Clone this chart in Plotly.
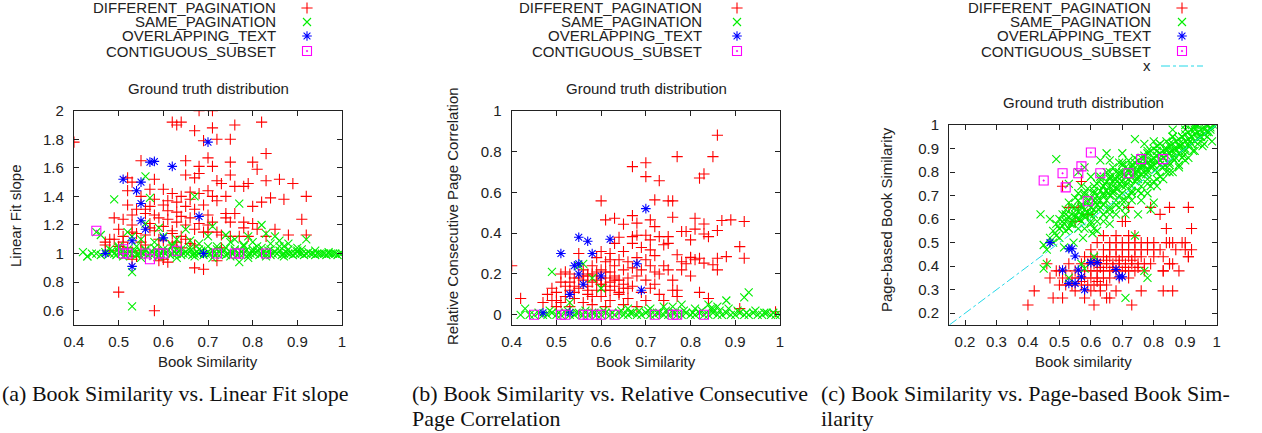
import plotly.graph_objects as go

# ---------------- Panel (a): Book Similarity vs Linear Fit slope ----------------
a_diff_x = [0.40,0.68,0.71,0.62,0.63,0.64,0.67,0.69,0.71,0.72,0.75,0.76,0.82,0.83,0.70,0.65,0.55,0.68,0.71,0.75,
            0.80,0.81,0.58,0.52,0.67,0.68,0.72,0.73,0.75,0.76,0.78,0.79,0.83,0.86,0.89,0.92,0.84,0.87,0.82,0.80,
            0.91,0.92,0.88,0.85,0.81,0.78,0.79,0.75,0.74,
            0.49,0.50,0.51,0.51,0.52,0.52,0.53,0.53,0.54,0.54,0.55,0.55,0.56,0.57,0.57,0.57,0.58,0.58,0.58,0.59,
            0.59,0.60,0.60,0.60,0.61,0.61,0.61,0.62,0.62,0.63,0.63,0.63,0.64,0.64,0.64,0.65,0.65,0.65,0.66,0.66,
            0.66,0.67,0.67,0.68,0.68,0.69,0.69,0.70,0.70,0.70,0.71,0.71,0.72,0.72,0.73,0.74,0.74,0.75,0.76,0.77,
            0.78,0.80,0.83,0.47,0.48,0.50,0.52,0.53,0.55,0.56,0.59,0.60,0.61,0.62,0.63,0.64,0.66,0.67,0.69,0.72,
            0.73,0.54,0.53,0.59,0.50,0.58,0.47,0.48,0.49,0.51,0.53,0.56,0.57,0.60,0.62,0.65,0.67,0.70,0.53,0.56]
a_diff_y = [1.78,2.00,2.00,1.92,1.90,1.92,1.86,1.79,1.88,1.80,1.80,1.90,1.92,1.70,1.67,1.65,1.65,1.61,1.61,1.64,
            1.64,1.59,1.52,1.53,1.53,1.56,1.51,1.49,1.55,1.47,1.47,1.49,1.51,1.52,1.49,1.40,1.39,1.38,1.36,1.33,
            1.24,1.13,1.13,1.17,1.17,1.18,1.12,1.22,1.28,
            1.25,1.17,1.12,1.24,1.34,1.44,1.27,1.20,1.31,1.14,1.40,1.08,1.28,1.45,1.33,1.21,1.38,1.16,1.27,1.25,
            1.10,1.45,1.34,1.19,1.30,1.37,1.24,1.42,1.14,1.36,1.29,1.22,1.40,1.26,1.12,1.33,1.20,1.55,1.38,1.25,
            1.43,1.31,1.17,1.42,1.21,1.34,1.15,1.44,1.27,1.20,1.22,1.40,1.37,1.15,1.13,1.40,1.25,1.12,1.28,1.12,
            1.22,1.21,1.12,1.06,1.10,1.05,1.04,1.01,1.02,1.06,1.03,0.96,0.94,1.06,1.08,1.04,1.07,0.90,0.89,0.95,
            1.04,0.98,0.96,0.95,0.73,0.60,1.08,1.02,1.10,1.08,1.50,1.13,1.18,1.09,1.16,1.10,1.06,1.15,1.15,1.31]

a_same_x = [0.42,0.43,0.44,0.45,0.46,0.47,0.48,0.485,0.49,0.495,0.50,0.505,0.51,0.515,0.52,0.525,0.53,0.535,0.54,0.545,
            0.55,0.555,0.56,0.565,0.57,0.575,0.58,0.585,0.59,0.595,0.60,0.605,0.61,0.615,0.62,0.625,0.63,0.635,0.64,0.645,
            0.65,0.655,0.66,0.665,0.67,0.675,0.68,0.685,0.69,0.695,0.70,0.705,0.71,0.715,0.72,0.725,0.73,0.735,0.74,0.745,
            0.75,0.755,0.76,0.765,0.77,0.775,0.78,0.785,0.79,0.795,0.80,0.805,0.81,0.815,0.82,0.825,0.83,0.835,0.84,0.845,
            0.85,0.855,0.86,0.865,0.87,0.875,0.88,0.885,0.89,0.895,0.90,0.905,0.91,0.915,0.92,0.925,0.93,0.935,0.94,0.945,
            0.95,0.955,0.96,0.965,0.97,0.975,0.98,0.985,0.99,0.995,1.00,
            0.48,0.50,0.52,0.54,0.56,0.58,0.60,0.62,0.64,0.66,0.68,0.70,0.72,0.74,0.76,0.78,0.80,0.82,0.84,0.86,
            0.88,0.90,0.51,0.55,0.59,0.63,0.67,0.71,0.75,0.79,0.83,0.87,
            0.46,0.50,0.52,0.53,0.55,0.56,0.58,0.59,0.60,0.62,0.63,0.65,0.66,0.68,0.70,0.71,0.72,0.74,0.75,0.76,
            0.78,0.79,0.80,0.81,0.83,0.84,0.85,0.86,0.87,0.88,0.90,0.91,0.94,0.97,
            0.56,0.57,0.49,0.67,0.77,0.53,0.53,0.77,0.82,0.45,0.92,0.43]
a_same_y = [1.01,0.98,1.00,1.00,0.99,1.01,1.00,1.02,1.00,0.99,1.01,1.00,1.02,0.99,1.00,1.01,1.00,1.02,0.99,1.00,
            1.01,1.00,1.02,0.99,1.00,1.01,1.00,1.02,0.99,1.00,1.01,1.00,1.02,0.99,1.00,1.01,1.00,1.02,0.99,1.00,
            1.01,1.00,1.02,0.99,1.00,1.01,1.00,1.02,0.99,1.00,1.01,1.00,1.02,0.99,1.00,1.01,1.00,1.02,0.99,1.00,
            1.01,1.00,1.02,0.99,1.00,1.01,1.00,1.02,0.99,1.00,1.01,1.00,1.02,0.99,1.00,1.01,1.00,1.02,0.99,1.00,
            1.01,1.00,1.02,0.99,1.00,1.01,1.00,1.00,0.99,1.00,1.01,1.00,1.00,0.99,1.00,1.01,1.00,1.00,0.99,1.00,
            1.00,1.00,1.00,0.99,1.00,1.00,1.00,1.00,0.99,1.00,1.00,
            1.03,1.04,1.03,1.05,1.03,1.04,1.03,1.05,1.03,1.04,1.03,1.05,1.03,1.04,1.03,1.05,1.03,1.04,1.03,1.05,
            1.03,1.02,0.98,0.97,0.98,0.97,0.98,0.97,0.98,0.97,0.98,0.98,
            1.13,1.05,1.15,1.12,1.10,1.21,1.08,1.18,1.12,1.06,1.10,1.17,1.09,1.07,1.12,1.19,1.05,1.13,1.08,1.10,
            1.06,1.12,1.08,1.05,1.14,1.07,1.12,1.09,1.05,1.07,1.04,1.03,1.02,1.01,
            1.54,1.39,1.38,1.40,1.35,0.63,0.87,0.94,1.20,1.15,1.10,0.98]

a_over_x = [0.47,0.51,0.53,0.53,0.54,0.55,0.55,0.55,0.56,0.57,0.58,0.60,0.62,0.68,0.69,0.70]
a_over_y = [1.00,1.52,1.09,0.91,1.44,1.50,1.35,1.23,1.17,1.64,1.645,1.11,1.61,1.26,1.00,1.78]

a_cont_x = [0.45,0.51,0.51,0.52,0.56,0.57,0.59,0.60,0.63,0.72,0.76,0.77,0.83]
a_cont_y = [1.16,1.03,1.00,1.00,1.00,0.96,1.00,1.00,1.02,1.00,1.00,1.00,1.00]

# ---------------- Panel (b): Book Similarity vs Relative Consecutive Page Correlation ----------------
b_diff_x = [0.40,0.42,0.86,0.77,0.70,0.67,0.70,0.73,0.82,0.83,0.85,0.60,0.72,0.75,0.76,0.61,0.63,0.65,0.67,0.68,
            0.71,0.72,0.76,0.81,0.83,0.86,0.87,0.89,0.92,0.79,0.78,0.81,0.80,0.84,0.83,0.75,0.73,0.67,0.68,0.70,
            0.71,0.71,0.74,0.75,0.77,0.80,0.81,0.82,0.83,0.85,0.86,0.88,0.91,0.92,0.86,0.78,0.80,0.76,0.77,0.82,
            0.84,0.91,0.99,
            0.47,0.48,0.49,0.49,0.50,0.50,0.51,0.51,0.52,0.52,0.53,0.53,0.53,0.54,0.54,0.55,0.55,0.56,0.56,0.56,
            0.57,0.57,0.57,0.58,0.58,0.58,0.59,0.59,0.59,0.60,0.60,0.60,0.60,0.61,0.61,0.61,0.61,0.62,0.62,0.62,
            0.62,0.63,0.63,0.63,0.63,0.64,0.64,0.64,0.64,0.65,0.65,0.65,0.65,0.66,0.66,0.66,0.67,0.67,0.67,0.68,
            0.68,0.68,0.69,0.69,0.69,0.70,0.70,0.70,0.71,0.71,0.72,0.72,0.72,0.73,0.73,0.74,0.74,0.75,0.76,0.77,
            0.78,0.79,0.80,0.58,0.59,0.61,0.63,0.65,0.66,0.54,0.57,0.60,0.62,0.64,
            0.51,0.53,0.55,0.57,0.59,0.61,0.63,0.50,0.52,0.54,0.56,0.58,0.60,0.62]
b_diff_y = [0.24,0.08,0.88,0.775,0.745,0.726,0.677,0.657,0.67,0.69,0.775,0.558,0.563,0.558,0.558,0.465,0.473,0.444,0.486,0.449,
            0.465,0.432,0.478,0.473,0.445,0.413,0.462,0.465,0.457,0.408,0.408,0.42,0.367,0.383,0.396,0.383,0.383,0.383,0.39,0.39,
            0.367,0.318,0.343,0.35,0.294,0.282,0.27,0.277,0.253,0.245,0.277,0.285,0.334,0.277,0.22,0.22,0.19,0.17,0.12,0.11,
            0.08,0.03,0.015,
            0.06,0.10,0.07,0.13,0.04,0.11,0.06,0.16,0.21,0.09,0.12,0.04,0.20,0.18,0.08,0.30,0.13,0.22,0.06,0.17,
            0.10,0.20,0.14,0.05,0.16,0.24,0.12,0.19,0.28,0.09,0.15,0.22,0.31,0.04,0.18,0.26,0.12,0.16,0.21,0.30,
            0.07,0.14,0.19,0.24,0.35,0.10,0.17,0.27,0.38,0.05,0.13,0.22,0.31,0.18,0.26,0.08,0.14,0.23,0.35,0.04,
            0.19,0.28,0.11,0.22,0.33,0.07,0.17,0.27,0.13,0.24,0.15,0.21,0.29,0.10,0.20,0.24,0.07,0.22,0.12,0.09,
            0.26,0.25,0.28,0.20,0.17,0.21,0.18,0.15,0.13,0.14,0.19,0.15,0.27,0.11,
            0.20,0.16,0.18,0.12,0.21,0.14,0.17,0.07,0.14,0.11,0.19,0.09,0.18,0.12]

b_same_x = [0.42,0.44,0.45,0.46,0.47,0.48,0.49,0.50,0.51,0.52,0.53,0.54,0.55,0.56,0.57,0.58,0.59,0.60,0.61,0.62,
            0.63,0.64,0.65,0.66,0.67,0.68,0.69,0.70,0.71,0.72,0.73,0.74,0.75,0.76,0.77,0.78,0.79,0.80,0.81,0.82,
            0.83,0.84,0.85,0.86,0.87,0.88,0.89,0.90,0.91,0.92,0.93,0.94,0.95,0.96,0.97,0.98,0.99,1.00,
            0.485,0.505,0.525,0.545,0.565,0.585,0.605,0.625,0.645,0.665,0.685,0.705,0.725,0.745,0.765,0.785,0.805,0.825,0.845,0.865,
            0.885,0.905,0.925,0.945,0.965,0.985,
            0.43,0.49,0.55,0.56,0.58,0.60,0.66,0.76,0.78,0.84,0.86,0.88,0.92,0.93,0.85,0.53,0.71,0.74,0.81]
b_same_y = [0.00,0.00,0.00,0.01,0.00,0.00,0.01,0.00,0.00,0.01,0.00,0.00,0.01,0.00,0.00,0.01,0.00,0.00,0.01,0.00,
            0.00,0.01,0.00,0.00,0.01,0.00,0.00,0.01,0.00,0.00,0.01,0.00,0.00,0.01,0.00,0.00,0.01,0.00,0.00,0.01,
            0.00,0.00,0.01,0.00,0.00,0.01,0.00,0.00,0.01,0.00,0.00,0.01,0.00,0.00,0.01,0.00,0.00,0.00,
            0.02,0.01,0.02,0.01,0.02,0.01,0.02,0.01,0.02,0.01,0.02,0.02,0.01,0.02,0.01,0.02,0.01,0.02,0.03,0.02,
            0.03,0.02,0.01,0.02,0.01,0.01,
            0.03,0.21,0.24,0.25,0.18,0.13,0.03,0.04,0.05,0.05,0.04,0.07,0.085,0.11,0.03,0.06,0.03,0.04,0.03]

b_over_x = [0.47,0.51,0.53,0.53,0.54,0.55,0.55,0.55,0.56,0.57,0.58,0.60,0.62,0.68,0.69,0.70]
b_over_y = [0.01,0.30,0.10,0.01,0.24,0.38,0.25,0.20,0.15,0.36,0.30,0.19,0.37,0.25,0.12,0.52]

b_cont_x = [0.45,0.51,0.52,0.56,0.57,0.59,0.60,0.63,0.72,0.76,0.77,0.83]
b_cont_y = [0.00,0.00,0.00,0.00,0.00,0.00,0.00,0.00,0.00,0.00,0.00,0.00]

# ---------------- Panel (c): Book similarity vs Page-based Book Similarity ----------------
c_diff_x = [0.40,0.42,0.48,0.51,0.61,0.73,0.65,0.66,0.58,0.76,0.83,0.86,0.79,0.82,0.85,0.91,0.72,0.70,0.71,0.84,
            0.92,0.89,0.91,0.92,0.88,0.85,0.86,0.83,0.90,0.85,0.57,0.56,0.51,0.53,0.59,0.55,0.46,0.49,0.47,
            0.62,0.66,0.68,0.70,0.72,0.74,0.76,0.78,0.80,0.84,0.86,
            0.60,0.64,0.66,0.68,0.70,0.72,0.74,0.76,0.78,0.80,0.82,0.87,0.90,
            0.58,0.60,0.62,0.64,0.66,0.68,0.70,0.72,0.74,0.76,0.80,0.83,0.91,
            0.53,0.57,0.59,0.61,0.63,0.65,0.67,0.69,0.71,0.73,0.75,0.77,0.79,0.85,
            0.50,0.52,0.55,0.58,0.60,0.62,0.64,0.66,0.68,0.70,0.72,0.74,0.77,0.83,
            0.51,0.54,0.56,0.58,0.60,0.62,0.64,0.66,0.69,0.72,
            0.50,0.52,0.54,0.57,0.59,0.61,0.63,0.65,
            0.55,0.60,0.63,0.68,0.64,0.68,0.72,0.74,
            0.61,0.65,0.69,0.73,0.63,0.67,0.71,0.75,0.57,0.62]
c_diff_y = [0.235,0.295,0.265,0.265,0.235,0.235,0.265,0.265,0.265,0.295,0.295,0.295,0.65,0.62,0.65,0.65,0.65,0.59,0.59,0.56,
            0.56,0.50,0.44,0.47,0.38,0.41,0.41,0.38,0.50,0.50,0.76,0.65,0.74,0.65,0.62,0.59,0.41,0.38,0.35,
            0.50,0.50,0.50,0.50,0.50,0.50,0.50,0.50,0.50,0.50,0.50,
            0.47,0.47,0.47,0.47,0.47,0.47,0.47,0.47,0.47,0.47,0.47,0.47,0.47,
            0.44,0.44,0.44,0.44,0.44,0.44,0.44,0.44,0.44,0.44,0.44,0.44,0.44,
            0.41,0.41,0.41,0.41,0.41,0.41,0.41,0.41,0.41,0.41,0.41,0.41,0.41,0.41,
            0.38,0.38,0.38,0.38,0.38,0.38,0.38,0.38,0.38,0.38,0.38,0.38,0.38,0.38,
            0.35,0.35,0.35,0.35,0.35,0.35,0.35,0.35,0.35,0.35,
            0.32,0.32,0.32,0.32,0.32,0.32,0.32,0.32,
            0.295,0.295,0.295,0.295,0.53,0.53,0.53,0.53,
            0.425,0.425,0.425,0.425,0.395,0.395,0.395,0.395,0.335,0.335]

c_same_x = [0.44,0.45,0.46,0.47,0.48,0.48,0.49,0.49,0.50,0.50,0.50,0.51,0.51,0.52,0.52,0.52,0.53,0.53,0.53,0.54,
            0.54,0.55,0.55,0.55,0.56,0.56,0.56,0.57,0.57,0.57,0.58,0.58,0.58,0.59,0.59,0.59,0.60,0.60,0.60,0.61,
            0.61,0.61,0.62,0.62,0.62,0.63,0.63,0.63,0.64,0.64,0.64,0.65,0.65,0.65,0.66,0.66,0.66,0.67,0.67,0.67,
            0.68,0.68,0.68,0.69,0.69,0.69,0.70,0.70,0.70,0.71,0.71,0.71,0.72,0.72,0.72,0.73,0.73,0.73,0.74,0.74,
            0.74,0.75,0.75,0.75,0.76,0.76,0.76,0.77,0.77,0.77,0.78,0.78,0.78,0.79,0.79,0.79,0.80,0.80,0.80,0.81,
            0.81,0.81,0.82,0.82,0.82,0.83,0.83,0.83,0.84,0.84,0.84,0.85,0.85,0.85,0.86,0.86,0.86,0.87,0.87,0.87,
            0.88,0.88,0.88,0.89,0.89,0.89,0.90,0.90,0.90,0.91,0.91,0.91,0.92,0.92,0.92,0.93,0.93,0.93,0.94,0.94,
            0.94,0.95,0.95,0.96,0.96,0.97,0.97,0.98,0.99,1.00,
            0.60,0.64,0.66,0.68,0.70,0.72,0.75,0.78,0.80,0.82,0.85,0.88,0.90,0.79,0.80,0.75,0.66,0.62,0.71,
            0.63,0.65,0.70,0.74,0.77,0.80,0.86,0.90,0.93,0.58,0.53,0.56,0.60,0.69,0.66,
            0.49,0.46,0.71,0.78,0.77,0.57,0.58,0.53,0.74,0.61,0.45,0.47,
            0.645,0.675,0.705,0.735,0.765,0.795,0.825,0.855,0.885,0.915,0.945,0.975,
            0.655,0.685,0.715,0.745,0.775,0.805,0.835,0.865,0.895,0.925,0.955,0.985,
            0.535,0.565,0.595,0.625,0.515,0.545,0.575,0.605,
            0.50,0.53,0.56,0.58,0.61,
            0.51,0.54,0.57,0.60,0.62,0.64,
            0.52,0.55,0.58,0.61,0.64,0.66,0.68,
            0.54,0.57,0.60,0.63,0.66,0.69,0.71,
            0.56,0.59,0.62,0.65,0.68,0.71,0.73,0.76,
            0.58,0.61,0.64,0.67,0.70,0.73,0.76,0.78,
            0.61,0.64,0.67,0.70,0.73,0.76,0.79,0.81,
            0.63,0.66,0.69,0.72,0.75,0.78,0.81,0.83,
            0.66,0.69,0.72,0.75,0.78,0.81,0.84,0.86,
            0.70,0.73,0.76,0.79,0.82,0.85,0.88,
            0.74,0.77,0.80,0.83,0.86,0.89,0.91,
            0.78,0.81,0.84,0.87,0.90,0.93,
            0.82,0.85,0.88,0.91,0.94,0.96,
            0.86,0.89,0.92,0.95,0.97,
            0.90,0.93,0.96,0.98]
c_same_y = [0.62,0.49,0.47,0.52,0.55,0.50,0.58,0.53,0.56,0.60,0.52,0.57,0.62,0.55,0.59,0.64,0.61,0.67,0.56,0.62,
            0.58,0.61,0.65,0.69,0.60,0.63,0.71,0.62,0.66,0.74,0.64,0.61,0.70,0.63,0.67,0.73,0.65,0.69,0.62,0.68,
            0.72,0.64,0.66,0.70,0.75,0.68,0.72,0.78,0.70,0.74,0.66,0.72,0.76,0.80,0.70,0.74,0.78,0.72,0.76,0.82,
            0.73,0.77,0.80,0.75,0.79,0.70,0.76,0.80,0.84,0.74,0.78,0.82,0.77,0.81,0.85,0.78,0.82,0.72,0.80,0.84,
            0.76,0.81,0.85,0.78,0.82,0.86,0.79,0.83,0.87,0.80,0.84,0.88,0.81,0.85,0.82,0.89,0.86,0.83,0.90,0.87,
            0.84,0.91,0.88,0.85,0.92,0.89,0.86,0.82,0.90,0.87,0.93,0.91,0.88,0.84,0.92,0.89,0.95,0.93,0.90,0.86,
            0.94,0.91,0.88,0.95,0.92,0.89,0.96,0.93,0.90,0.97,0.94,0.91,0.98,0.95,0.92,0.99,0.96,0.93,1.00,0.97,
            0.94,0.98,0.95,0.99,0.96,1.00,0.97,0.99,1.00,1.00,
            0.58,0.62,0.64,0.66,0.68,0.70,0.72,0.75,0.76,0.78,0.80,0.82,0.85,0.64,0.67,0.62,0.58,0.55,0.62,
            0.85,0.88,0.88,0.94,0.92,0.93,0.98,1.00,1.00,0.82,0.75,0.80,0.78,0.84,0.85,
            0.855,0.41,0.265,0.35,0.38,0.41,0.39,0.35,0.53,0.44,0.39,0.60,
            0.75,0.77,0.79,0.81,0.83,0.85,0.87,0.89,0.91,0.93,0.95,0.97,
            0.71,0.73,0.75,0.77,0.79,0.81,0.83,0.85,0.87,0.89,0.91,0.93,
            0.58,0.60,0.62,0.64,0.48,0.50,0.52,0.54,
            0.56,0.56,0.56,0.56,0.56,
            0.59,0.59,0.59,0.59,0.59,0.59,
            0.62,0.62,0.62,0.62,0.62,0.62,0.62,
            0.65,0.65,0.65,0.65,0.65,0.65,0.65,
            0.68,0.68,0.68,0.68,0.68,0.68,0.68,0.68,
            0.71,0.71,0.71,0.71,0.71,0.71,0.71,0.71,
            0.74,0.74,0.74,0.74,0.74,0.74,0.74,0.74,
            0.77,0.77,0.77,0.77,0.77,0.77,0.77,0.77,
            0.80,0.80,0.80,0.80,0.80,0.80,0.80,0.80,
            0.83,0.83,0.83,0.83,0.83,0.83,0.83,
            0.86,0.86,0.86,0.86,0.86,0.86,0.86,
            0.89,0.89,0.89,0.89,0.89,0.89,
            0.92,0.92,0.92,0.92,0.92,0.92,
            0.95,0.95,0.95,0.95,0.95,
            0.98,0.98,0.98,0.98]

c_over_x = [0.47,0.53,0.54,0.55,0.51,0.56,0.57,0.53,0.55,0.58,0.60,0.62,0.68,0.69,0.70]
c_over_y = [0.50,0.474,0.474,0.443,0.384,0.384,0.355,0.327,0.327,0.30,0.415,0.415,0.386,0.355,0.355]

c_cont_x = [0.45,0.51,0.52,0.56,0.57,0.60,0.59,0.63,0.72,0.76,0.83]
c_cont_y = [0.764,0.795,0.735,0.795,0.824,0.883,0.676,0.795,0.795,0.855,0.855]

diag_x = [0.15, 1.0]
diag_y = [0.15, 1.0]

series_names = ["DIFFERENT_PAGINATION", "SAME_PAGINATION", "OVERLAPPING_TEXT", "CONTIGUOUS_SUBSET"]
series_colors = ["#ff0000", "#00ee00", "#0000ff", "#ff00ff"]
series_symbols = ["cross-thin", "x-thin", "asterisk", "square-open-dot"]

a_xticks = [0.4, 0.5, 0.6, 0.7, 0.8, 0.9, 1.0]
a_yticks = [0.6, 0.8, 1.0, 1.2, 1.4, 1.6, 1.8, 2.0]
b_yticks = [0, 0.2, 0.4, 0.6, 0.8, 1.0]
c_ticks = [0.2, 0.3, 0.4, 0.5, 0.6, 0.7, 0.8, 0.9, 1.0]

W, H = 1262, 433
FONT = "Liberation Sans, Arial, sans-serif"
SERIF = "Liberation Serif, Times New Roman, serif"
FS = 15

fig = go.Figure()

panels = [
    ("x", "y", [(a_diff_x, a_diff_y), (a_same_x, a_same_y), (a_over_x, a_over_y), (a_cont_x, a_cont_y)]),
    ("x2", "y2", [(b_diff_x, b_diff_y), (b_same_x, b_same_y), (b_over_x, b_over_y), (b_cont_x, b_cont_y)]),
    ("x3", "y3", [(c_diff_x, c_diff_y), (c_same_x, c_same_y), (c_over_x, c_over_y), (c_cont_x, c_cont_y)]),
]

for xa, ya, data in panels:
    for i, (xs, ys) in enumerate(data):
        fig.add_trace(go.Scatter(
            x=xs, y=ys, mode="markers", xaxis=xa, yaxis=ya, name=series_names[i], showlegend=False,
            marker=dict(symbol=series_symbols[i], size=8 if i != 3 else 9, color=series_colors[i],
                        line=dict(color=series_colors[i], width=1.1)),
        ))
    if xa == "x3":
        fig.add_trace(go.Scatter(x=diag_x, y=diag_y, mode="lines", xaxis=xa, yaxis=ya,
                                 line=dict(color="#22d8e8", width=1, dash="dashdot"), showlegend=False,
                                 hoverinfo="skip"))

# legend sample glyphs, drawn on a transparent overlay axis in pixel units
leg_pos = [(307, 277), (737, 703), (1182, 1152)]
leg_rows = [8, 22, 36, 51]
for i in range(4):
    fig.add_trace(go.Scatter(
        x=[p[0] for p in leg_pos], y=[leg_rows[i]] * 3, mode="markers", xaxis="x4", yaxis="y4",
        showlegend=False, hoverinfo="skip", cliponaxis=False,
        marker=dict(symbol=series_symbols[i], size=8 if i != 3 else 9, color=series_colors[i],
                    line=dict(color=series_colors[i], width=1.1))))
fig.add_trace(go.Scatter(x=[1161, 1203], y=[66, 66], mode="lines", xaxis="x4", yaxis="y4",
                         showlegend=False, hoverinfo="skip",
                         line=dict(color="#22d8e8", width=1, dash="dashdot")))

annotations = []
for (sx, tx) in leg_pos:
    for i, nm in enumerate(series_names):
        annotations.append(dict(x=tx / W, y=1 - leg_rows[i] / H, xref="paper", yref="paper", text=nm,
                                showarrow=False, xanchor="right", yanchor="middle", borderpad=0,
                                font=dict(family=FONT, size=FS, color="#222")))
annotations.append(dict(x=1152 / W, y=1 - 66 / H, xref="paper", yref="paper", text="x", showarrow=False,
                        xanchor="right", yanchor="middle", borderpad=0,
                        font=dict(family=FONT, size=FS, color="#222")))

# titles
for cx, cy in [(208, 88), (646, 88), (1083, 103)]:
    annotations.append(dict(x=cx / W, y=1 - cy / H, xref="paper", yref="paper", text="Ground truth distribution",
                            showarrow=False, xanchor="center", yanchor="middle",
                            font=dict(family=FONT, size=FS, color="#222")))
# axis titles
for cx, cy, t in [(208, 361, "Book Similarity"), (646, 361, "Book Similarity"), (1083, 361, "Book similarity")]:
    annotations.append(dict(x=cx / W, y=1 - cy / H, xref="paper", yref="paper", text=t, showarrow=False,
                            xanchor="center", yanchor="middle", font=dict(family=FONT, size=FS, color="#222")))
for cx, cy, t in [(15, 216, "Linear Fit slope"), (452, 216, "Relative Consecutive Page Correlation"),
                  (886, 220, "Page-based Book Similarity")]:
    annotations.append(dict(x=cx / W, y=1 - cy / H, xref="paper", yref="paper", text=t, showarrow=False,
                            textangle=-90, xanchor="center", yanchor="middle",
                            font=dict(family=FONT, size=FS, color="#222")))
# captions
for cx, cy, t in [(1, 393, "(a) Book Similarity vs. Linear Fit slope"),
                  (411, 393, "(b) Book Similarity vs. Relative Consecutive"),
                  (411, 418, "Page Correlation"),
                  (820, 393, "(c) Book Similarity vs. Page-based Book Sim-"),
                  (820, 418, "ilarity")]:
    annotations.append(dict(x=cx / W, y=1 - cy / H, xref="paper", yref="paper", text=t, showarrow=False,
                            xanchor="left", yanchor="middle", borderpad=0,
                            font=dict(family=SERIF, size=22, color="#111")))

def ax(domain, rng, ticks, anchor, standoff):
    return dict(domain=domain, range=rng, tickvals=ticks, ticktext=[("%g" % v) for v in ticks],
                ticks="inside", ticklen=5, tickwidth=1, tickcolor="#222", mirror="allticks",
                showline=True, linecolor="#222", linewidth=1.4, showgrid=False, zeroline=False,
                anchor=anchor, tickfont=dict(family=FONT, size=FS, color="#222"),
                ticklabelstandoff=standoff, automargin=False)

yd_ab = [1 - 325 / H, 1 - 110.7 / H]
yd_c = [1 - 325 / H, 1 - 125 / H]
fig.update_layout(
    width=W, height=H, margin=dict(l=0, r=0, t=0, b=0, autoexpand=False),
    paper_bgcolor="white", plot_bgcolor="rgba(0,0,0,0)",
    showlegend=False, annotations=annotations,
    xaxis=ax([74 / W, 342 / W], [0.4, 1.0], a_xticks, "y", 3),
    yaxis=ax(yd_ab, [0.5, 2.0], a_yticks, "x", 6),
    xaxis2=ax([511.7 / W, 780 / W], [0.4, 1.0], a_xticks, "y2", 3),
    yaxis2=ax(yd_ab, [-0.05, 1.0], b_yticks, "x2", 6),
    xaxis3=ax([949.3 / W, 1216.7 / W], [0.15, 1.0], c_ticks, "y3", 3),
    yaxis3=ax(yd_c, [0.15, 1.0], c_ticks, "x3", 6),
    xaxis4=dict(domain=[0, 1], range=[0, W], visible=False, anchor="y4", automargin=False),
    yaxis4=dict(domain=[0, 1], range=[H, 0], visible=False, anchor="x4", automargin=False),
)
fig.write_html("out.html", config={"displayModeBar": False},
               post_script="document.body.style.margin='0px';document.body.style.overflow='hidden';")
